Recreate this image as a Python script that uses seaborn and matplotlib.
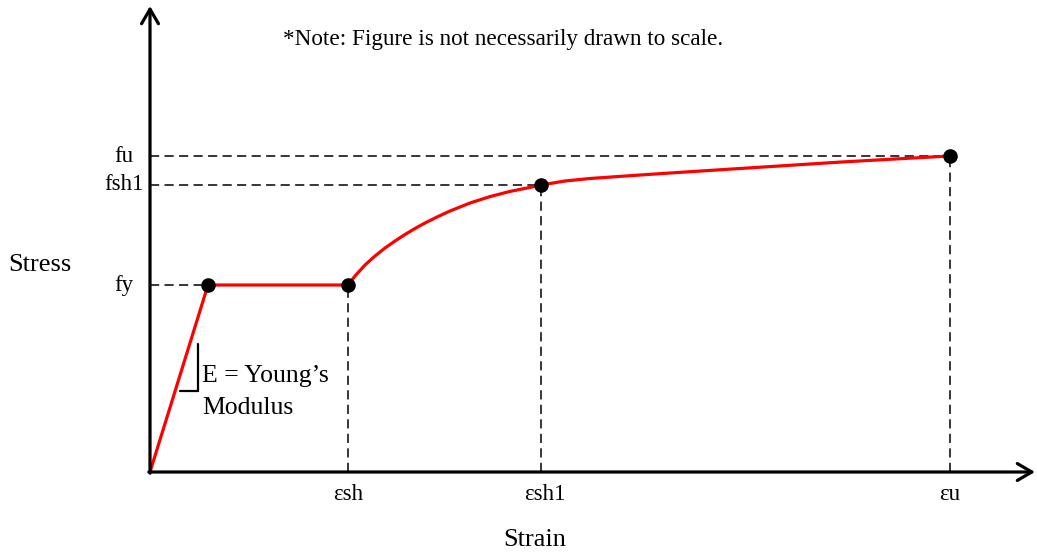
import matplotlib
matplotlib.use("Agg")
import matplotlib.pyplot as plt
import seaborn as sns
import pandas as pd

# Characteristic strains and stresses (arbitrary units, not to scale)
eps_y, eps_sh, eps_sh1, eps_u = 58, 198, 391, 800
f_y, f_sh1, f_u = 187, 287, 316

# Stress-strain curve: elastic branch, yield plateau, strain hardening
strain = [0, 58, 198, 205, 215, 225, 235, 245, 255, 265, 275, 287, 300,
          320, 340, 360, 380, 391, 415, 440, 490, 540, 590, 640, 690, 745, 800]
stress = [0, 187, 187, 196, 207, 216, 224, 231, 237.5, 243.5, 249, 255, 261,
          269, 275.4, 280.6, 284.6, 287, 291, 293.5, 297, 300.3, 303.5, 306.7,
          309.9, 313, 316]

# Marked points
pt_strain = [eps_y, eps_sh, eps_sh1, eps_u]
pt_stress = [f_y, f_y, f_sh1, f_u]

y_labels = ["fy", "fsh1", "fu"]
y_values = [f_y, f_sh1, f_u]
x_labels = ["εsh", "εsh1", "εu"]
x_values = [eps_sh, eps_sh1, eps_u]

sns.set_style("white")
plt.rcParams["font.family"] = ["Liberation Serif", "DejaVu Serif"]
plt.rcParams["text.color"] = "black"

fig = plt.figure(figsize=(10.37, 5.56), dpi=100)
ax = fig.add_axes([0, 0, 1, 1])
ax.set_xlim(-150, 887)
ax.set_ylim(-84, 472)

dash = dict(color="black", lw=1.1, linestyle=(0, (6, 3.5)), zorder=1)
# Guide lines from the marked points to the axes
ax.plot([0, eps_y], [f_y, f_y], **dash)
ax.plot([0, eps_sh1], [f_sh1, f_sh1], **dash)
ax.plot([0, eps_u], [f_u, f_u], **dash)
ax.plot([eps_sh, eps_sh], [0, f_y], **dash)
ax.plot([eps_sh1, eps_sh1], [0, f_sh1], **dash)
ax.plot([eps_u, eps_u], [0, f_u], **dash)

curve = pd.DataFrame({"strain": strain, "stress": stress})
sns.lineplot(data=curve, x="strain", y="stress", color="#ff0000", lw=2.3,
             sort=False, ax=ax, zorder=3)
line = ax.lines[-1]
line.set_solid_joinstyle("round")
pts = pd.DataFrame({"strain": pt_strain, "stress": pt_stress})
sns.scatterplot(data=pts, x="strain", y="stress", color="black", s=110,
                edgecolor="black", linewidth=0, ax=ax, zorder=4)
ax.axis("off")

# Axes with open arrowheads
arrow = dict(arrowstyle="->,head_length=0.55,head_width=0.32", lw=2.3,
             color="black", mutation_scale=19, shrinkA=0, shrinkB=0)
ax.annotate("", xy=(0, 466), xytext=(0, -1.2), arrowprops=arrow, zorder=5)
ax.annotate("", xy=(885, 0), xytext=(-1.2, 0), arrowprops=arrow, zorder=5)

# Tick labels
for lab, v in zip(y_labels, y_values):
    ax.text(-26, v, lab, ha="center", va="center", fontsize=16.5)
for lab, v in zip(x_labels, x_values):
    ax.text(v + (4 if lab == "εsh1" else 0), -23, lab, ha="center",
            va="center", fontsize=16.5)

ax.text(385, -68, "Strain", ha="center", va="center", fontsize=19)
ax.text(-110, 207, "Stress", ha="center", va="center", fontsize=19)
ax.text(133, 432, "*Note: Figure is not necessarily drawn to scale.",
        ha="left", va="center", fontsize=16.7)

# Slope marker for the elastic branch
ax.plot([47.7, 47.7], [128, 81], color="black", lw=1.6, zorder=2)
ax.plot([30, 47.7], [81, 81], color="black", lw=1.6, zorder=2)
ax.text(52, 96, "E = Young’s", ha="left", va="center", fontsize=18.5)
ax.text(52, 64, "Modulus", ha="left", va="center", fontsize=18.5)

fig.savefig("out.png", dpi=100, facecolor="white")
